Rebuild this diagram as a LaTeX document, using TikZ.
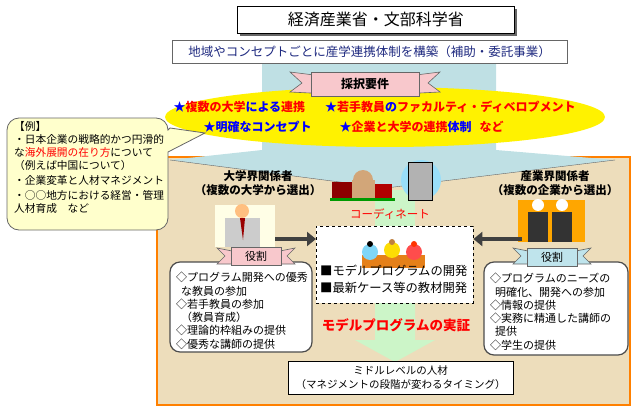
\documentclass[tikz,border=0pt]{standalone}
\usepackage{fontspec}
\setmainfont{Noto Sans CJK JP}
\usetikzlibrary{shapes.geometric,arrows.meta,calc}
\definecolor{navy}{HTML}{1F2A80}
\definecolor{beige}{HTML}{EDDDBB}
\definecolor{lblue}{HTML}{BFE0E4}
\definecolor{lgreen}{HTML}{CCF5C8}
\definecolor{pinkr}{HTML}{F8C8CC}
\definecolor{cyanr}{HTML}{BFE4EC}
\definecolor{calloutc}{HTML}{FFFFCC}
\tikzset{
 txt/.style={font=\fontsize{10.5}{13}\selectfont,align=left,inner sep=0pt},
 rolebox/.style={draw=black!70,line width=1.2pt,rounded corners=10pt,fill=white},
 ribbon/.style={draw=black!60,line width=0.6pt},
 darrow/.style={-{Triangle[length=9pt,width=14pt]},line width=4pt,draw=black!75},
}
\begin{document}
\begin{tikzpicture}[x=1pt,y=-1pt]
\useasboundingbox (0,0) rectangle (635,412);
% beige panel
\draw[fill=beige,draw=orange,line width=1.6pt] (157,157) rectangle (630,405);
% blue big arrow
\fill[lblue] (262,62) -- (496,62) -- (496,150) -- (615,160) -- (386,188) -- (170,160) -- (262,150) -- cycle;
\draw[black!60] (170,160) -- (386,188) -- (615,160);
% title
\fill[black!60] (240,9) rectangle (517,36);
\node[draw,fill=white,line width=0.8pt,minimum width=277pt,minimum height=27pt,anchor=north west,font=\fontsize{16}{18}\selectfont] (title) at (237,6) {経済産業省・文部科学省};
\node[draw=black!60,fill=white,minimum width=395pt,minimum height=23pt,anchor=north west,text=navy,font=\fontsize{12.5}{14}\selectfont] (sub) at (172,40) {地域やコンセプトごとに産学連携体制を構築（補助・委託事業）};
% yellow ellipse
\node[ellipse,fill=yellow,minimum width=440pt,minimum height=60pt] (ell) at (385,117) {};
\node[font=\bfseries\fontsize{12}{14}\selectfont,anchor=west] (l1) at (170,107) {\textcolor{blue}{★}\textcolor{red}{複数の大学}\textcolor{blue}{による}\textcolor{red}{連携}\hspace{20pt}\textcolor{blue}{★}\textcolor{red}{若手教員}\textcolor{blue}{の}\textcolor{red}{ファカルティ・ディベロプメント}};
\node[font=\bfseries\fontsize{12}{14}\selectfont,anchor=west] (l2) at (200,127) {\textcolor{blue}{★明確なコンセプト}\hspace{28pt}\textcolor{blue}{★}\textcolor{red}{企業と大学の連携}\textcolor{blue}{体制}\hspace{8pt}\textcolor{red}{など}};
% ribbon top
\draw[ribbon,fill=pinkr] (290,72) -- (330,77) -- (330,94) -- (290,92) -- (302,83) -- cycle;
\draw[ribbon,fill=pinkr] (440,72) -- (400,77) -- (400,94) -- (440,92) -- (428,83) -- cycle;
\node[draw=black!60,fill=pinkr,minimum width=108pt,minimum height=24pt,font=\bfseries\fontsize{12}{14}\selectfont] (req) at (365,84) {採択要件};
% callout
\draw[fill=calloutc,draw=black!60,line width=0.8pt] (170,128) -- (205,133) -- (168,152) -- (168,218) arc (0:90:12) -- (19,230) arc (90:180:12) -- (7,130) arc (180:270:12) -- (156,118) arc (270:360:12) -- cycle;
\node[txt,anchor=north west,font=\fontsize{10.7}{13}\selectfont] (ex) at (14,121) {【例】\\・日本企業の戦略的かつ円滑的\\な\textcolor{red}{海外展開の在り方}について\\ （例えば中国について）\\[2pt]・企業変革と人材マネジメント\\[2pt]・○○地方における経営・管理\\人材育成\quad など};
% green arrow
\fill[lgreen] (375,190) rectangle (415,226);
\fill[lgreen] (375,303) -- (415,303) -- (415,340) -- (435,340) -- (395,362) -- (355,340) -- (375,340) -- cycle;
% headings
\node[font=\bfseries\fontsize{11.5}{14}\selectfont,align=center] (uh) at (258,183) {大学界関係者\\（複数の大学から選出）};
\node[font=\bfseries\fontsize{11.5}{14}\selectfont,align=center] (ih) at (555,183) {産業界関係者\\（複数の企業から選出）};
\node[text=red,font=\fontsize{11.5}{14}\selectfont] (coord) at (390,214) {コーディネート};
% clip-art approximations
\fill[red!55!black] (332,182) rectangle (352,198);
\fill[brown!70] (352,180) rectangle (375,198); \fill[brown!70] (363,180) circle (10);
\fill[red!70!black] (375,184) rectangle (392,198);
\fill[green!60!black] (330,198) rectangle (395,201);
\fill[cyan!40] (421,180) circle (20);
\fill[gray!60] (408,162) rectangle (432,200);
\draw[black] (408,162) rectangle (432,200);
% man left
\fill[white!90!yellow] (215,205) rectangle (275,247);
\fill[gray!40] (225,218) rectangle (260,247);
\fill[red!60!black] (240,218) -- (245,218) -- (243,240) -- cycle;
\fill[orange!50!white] (242,211) circle (7);
% men right
\fill[orange!70!yellow] (518,200) rectangle (585,242);
\fill[black!80] (528,212) rectangle (548,242); \fill[black!80] (552,212) rectangle (572,242);
\fill[white] (538,205) circle (6); \fill[white] (562,205) circle (6);
% dashed box
\node[draw,dashed,fill=white,minimum width=157pt,minimum height=77pt,anchor=north west] (dbox) at (316,226) {};
\fill[orange!60!brown] (362,255) rectangle (425,268);
\fill[cyan!50] (370,252) circle (8); \fill[yellow!80!orange] (392,250) circle (8); \fill[red!70] (414,252) circle (8);
\fill[black] (370,244) circle (3); \fill[brown] (392,242) circle (3); \fill[orange!40!red] (414,244) circle (3);
\node[txt,anchor=north west,font=\fontsize{12.3}{17}\selectfont] (dt) at (320,265) {■モデルプログラムの開発\\■最新ケース等の教材開発};
\node[text=red,font=\bfseries\fontsize{13.5}{15}\selectfont] (demo) at (396,325) {モデルプログラムの実証};
% bottom
\node[draw,fill=white,minimum width=225pt,minimum height=33pt,align=center,anchor=north west,font=\fontsize{10.5}{14}\selectfont] (bot) at (288,361) {ミドルレベルの人材\\（マネジメントの段階が変わるタイミング）};
% role boxes
\draw[rolebox] (170,262) rectangle (312,352);
\node[txt,anchor=north west,font=\fontsize{11}{13.3}\selectfont] (lr) at (176,272) {◇プログラム開発への優秀\\\ \ な教員の参加\\◇若手教員の参加\\\ \ （教員育成）\\◇理論的枠組みの提供\\◇優秀な講師の提供};
\draw[rolebox] (484,262) rectangle (628,355);
\node[txt,anchor=north west,font=\fontsize{11}{13.3}\selectfont] (rr) at (490,273) {◇プログラムのニーズの\\\ \ 明確化、開発への参加\\◇情報の提供\\◇実務に精通した講師の\\\ \ 提供\\◇学生の提供};
% role ribbons
\draw[ribbon,fill=pinkr] (217,248) -- (232,251) -- (232,264) -- (217,264) -- (225,256) -- cycle;
\draw[ribbon,fill=pinkr] (295,248) -- (280,251) -- (280,264) -- (295,264) -- (287,256) -- cycle;
\node[draw=black!60,fill=pinkr,minimum width=50pt,minimum height=18pt,font=\fontsize{11}{13}\selectfont] (lrole) at (256,256) {役割};
\draw[ribbon,fill=cyanr] (513,248) -- (528,251) -- (528,264) -- (513,264) -- (521,256) -- cycle;
\draw[ribbon,fill=cyanr] (591,248) -- (576,251) -- (576,264) -- (591,264) -- (583,256) -- cycle;
\node[draw=black!60,fill=cyanr,minimum width=50pt,minimum height=18pt,font=\fontsize{11}{13}\selectfont] (rrole) at (552,257) {役割};
% arrows
\coordinate (la) at (275,239);
\coordinate (ra) at (522,239);
\draw[darrow] (la) -- (dbox.west |- la);
\draw[darrow] (ra) -- (dbox.east |- ra);
\end{tikzpicture}
\end{document}
